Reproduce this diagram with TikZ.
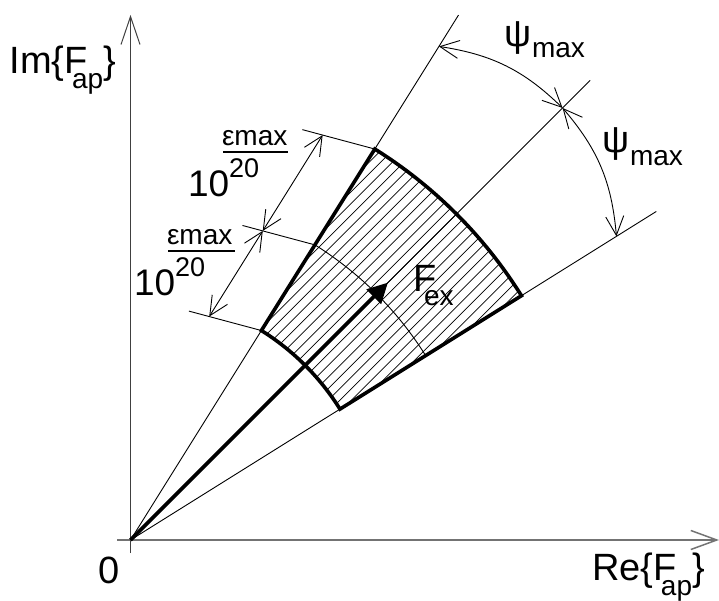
\documentclass[tikz,border=0pt]{standalone}
\usepackage{fontspec}
\setmainfont{Liberation Sans}
\usetikzlibrary{arrows.meta,calc,bending}
\newcommand\fsz[1]{\fontsize{#1}{#1}\selectfont}
\begin{document}
\begin{tikzpicture}[x=1pt,y=1pt,
  thinl/.style={line width=0.9pt,black},
  thickl/.style={line width=3.6pt,black},
  hatchl/.style={line width=0.7pt,black},
  dimarr/.style={thinl,{Straight Barb[length=19pt,width=18pt]}-{Straight Barb[length=19pt,width=18pt]}},
  vaxis/.style={line width=1pt,black!75,-{Straight Barb[length=28pt,width=19pt]}},
  haxis/.style={line width=1.5pt,black!55,-{Straight Barb[length=26pt,width=19pt]}},
  lab/.style={anchor=base west,inner sep=0pt,outer sep=0pt}]
\useasboundingbox (0,0) rectangle (719,600);
% key points
\coordinate (O) at (130.5,60);
\coordinate (Ybot) at (130.5,47);
\coordinate (Ytop) at (130.5,585);
\coordinate (Xl) at (117,60);
\coordinate (Xr) at (719,60);
\coordinate (Uend) at ($(O)+(58:619)$);
\coordinate (Mend) at ($(O)+(45:650)$);
\coordinate (Lend) at ($(O)+(32:620)$);
\coordinate (iU) at ($(O)+(58:247)$);
\coordinate (iL) at ($(O)+(32:247)$);
\coordinate (oU) at ($(O)+(58:461)$);
\coordinate (oL) at ($(O)+(32:461)$);
\coordinate (mU) at ($(O)+(58:348)$);
\coordinate (mL) at ($(O)+(32:348)$);
\coordinate (eI) at ($(iU)+(165:75)$);
\coordinate (eM) at ($(mU)+(165:75)$);
\coordinate (eO) at ($(oU)+(165:75)$);
\coordinate (dI) at ($(iU)+(165:54)$);
\coordinate (dM) at ($(mU)+(165:54)$);
\coordinate (dO) at ($(oU)+(165:54)$);
\coordinate (A1) at ($(O)+(58:582)$);
\coordinate (Mp) at ($(O)+(45:611)$);
\coordinate (A2) at ($(O)+(32:573)$);
\coordinate (Ftip) at ($(O)+(45:364)$);
% axes
\draw[vaxis] (Ybot) -- (Ytop);
\draw[haxis] (Xl) -- (Xr);
% hatching
\begin{scope}
  \clip (iL) arc[start angle=32,end angle=58,radius=247] -- (oU)
        arc[start angle=58,end angle=32,radius=461] -- cycle;
  \foreach \k in {-14,...,14}
    \draw[hatchl] ($(O)+(135:\k*8.2)$) -- ++(45:500);
\end{scope}
% thin rays
\draw[thinl] (O) -- (Uend);
\draw[thinl] (O) -- (Mend);
\draw[thinl] (O) -- (Lend);
% middle thin arc with extension
\draw[thinl] (mL) arc[start angle=32,end angle=58,radius=348] -- (eM);
% extension lines
\draw[thinl] (iU) -- (eI);
\draw[thinl] (oU) -- (eO);
% thick sector outline
\draw[thickl] (iL) arc[start angle=32,end angle=58,radius=247] -- (oU)
      arc[start angle=58,end angle=32,radius=461] -- cycle;
% F_ex arrow
\draw[thickl,-{Triangle[length=20pt,width=20pt]}] (O) -- (Ftip);
% epsilon dimensions
\draw[dimarr] (dI) -- (dM);
\draw[dimarr] (dM) -- (dO);
% psi dimensions
\draw[dimarr] (A1) to[bend left=18] (Mp);
\draw[dimarr] (Mp) to[bend left=18] (A2);
% labels
\node[lab] (im) at (9.7,526.7) {\fsz{38}Im\{F\kern-15.8pt\raisebox{-15pt}{\fsz{28}ap}\}};
\node[lab] (re) at (592,20) {\fsz{38}Re\{F\kern-15.5pt\raisebox{-15pt}{\fsz{28}ap}\}};
\node[lab] (zero) at (98.4,17) {\fsz{38}0};
\node[lab] (fex) at (413,308) {\fsz{38}F\kern-12.2pt\raisebox{-13pt}{\fsz{28}ex}};
\node[lab] (psi1) at (504,553) {\fsz{38}ψ\kern1pt\raisebox{-11pt}{\fsz{28}max}};
\node[lab] (psi2) at (602,447) {\fsz{38}ψ\kern1pt\raisebox{-13pt}{\fsz{28}max}};
\node[lab] (eps1) at (222,454) {\fsz{28}εmax};
\draw[line width=1.3pt] (223,448) -- (288,448);
\node[lab] (ten1) at (188,403) {\fsz{37}10\raisebox{19pt}{\fsz{27}20}};
\node[lab] (eps2) at (167,355) {\fsz{28}εmax};
\draw[line width=1.3pt] (168,349) -- (235,349);
\node[lab] (ten2) at (134,304) {\fsz{37}10\raisebox{19pt}{\fsz{27}20}};
\end{tikzpicture}
\end{document}
